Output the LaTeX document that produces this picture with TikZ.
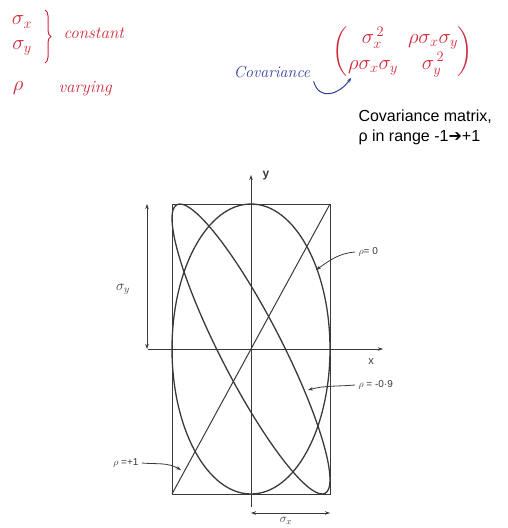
\documentclass[tikz,border=0pt]{standalone}
\usepackage{amsmath}
\usepackage{fontspec}
\setsansfont{Liberation Sans}
\newfontfamily\arrowfont{DejaVu Sans}
\usetikzlibrary{arrows.meta,positioning,decorations.pathreplacing}
\definecolor{penred}{HTML}{D0283A}
\definecolor{penblue}{HTML}{2F3F9A}
\definecolor{plotgray}{HTML}{3A3A3A}

\begin{document}
\begin{tikzpicture}[x=1pt, y=1pt,
    hand/.style={text=penred, font=\itshape\fontsize{17}{19}\selectfont},
    bighand/.style={text=penred, font=\fontsize{22}{24}\selectfont},
    curve/.style={draw=plotgray, line width=1.3pt},
    thinline/.style={draw=plotgray, line width=0.8pt},
    lbl/.style={text=plotgray, font=\sffamily\fontsize{10}{12}\selectfont},
    tip/.style={-{Stealth[length=5pt,width=3.5pt]}},
    dim/.style={thinline, {Stealth[length=5pt,width=3.5pt]}-{Stealth[length=5pt,width=3.5pt]}}]
  \useasboundingbox (0,0) rectangle (507,528);

  % handwritten notes
  \node[bighand] (sx) at (22,506) {$\sigma_x$};
  \node[bighand] (sy) at (22,480) {$\sigma_y$};
  \draw[penred, line width=1pt, decorate, decoration={brace, amplitude=6pt}] (45,518) -- (45,465);
  \node[hand, anchor=west] (const) at (60,495) {constant};
  \node[bighand] (rho) at (18,440) {$\rho$};
  \node[hand, anchor=west] (vary) at (55,439) {varying};

  \node[text=penred, font=\fontsize{20}{22}\selectfont] (cov) at (403,476)
    {$\begin{pmatrix} \sigma_x^{\,2} & \rho\sigma_x\sigma_y \\[2pt] \rho\sigma_x\sigma_y & \sigma_y^{\,2} \end{pmatrix}$};
  \coordinate (covtip) at ([xshift=22pt,yshift=3pt]cov.south west);
  \node[text=penblue, font=\itshape\fontsize{16}{18}\selectfont] (covlab) at (272,456) {Covariance};
  \draw[penblue, line width=1pt, tip] (covlab.south east) to[out=-75, in=-125, looseness=1.4] (covtip);

  \node[font=\sffamily\fontsize{16}{18}\selectfont, anchor=west] (cm) at (355,411) {Covariance matrix,};
  \node[font=\sffamily\fontsize{16}{18}\selectfont, anchor=west] (range) at (355,391) {ρ in range -1{\arrowfont\bfseries ➔}+1};

  % plot
  \coordinate (C) at (251,179);
  \coordinate (bl) at (172,34);
  \coordinate (tr) at (330,324);
  \draw[thinline] (bl) rectangle (tr);
  \draw[thinline, tip] (251,21) -- (251,353);
  \draw[thinline, tip] (148,179) -- (383,179);
  \node[lbl, font=\sffamily\bfseries\fontsize{12}{14}\selectfont] (ylab) at (266,352) {y};
  \node[lbl, font=\sffamily\fontsize{11}{13}\selectfont] (xlab) at (371,166) {x};

  \draw[curve] (C) ellipse [x radius=79, y radius=145];
  \draw[curve] plot[smooth cycle, domain=0:355, samples=72] ({251+79*cos(\x)}, {179+145*cos(\x-154.16)});
  \draw[thinline, line width=1pt] (bl) -- (tr);

  % dimensions
  \draw[dim] (147,324) -- (147,179);
  \node[lbl, font=\fontsize{14}{16}\selectfont] (sylab) at (123,239) {$\sigma_y$};
  \draw[dim] (251,15) -- (330,15);
  \node[lbl, font=\fontsize{13}{15}\selectfont, inner sep=1pt] (sxlab) at (286,7) {$\sigma_x$};

  % curve labels
  \node[lbl, anchor=west] (r0) at (355,276) {$\rho$= 0};
  \coordinate (r0tip) at (316,258);
  \draw[plotgray, line width=0.8pt, tip] (r0.west) to[out=185, in=35] (r0tip);
  \node[lbl, anchor=west] (r9) at (355,143) {$\rho$ = -0·9};
  \coordinate (r9tip) at (308,138);
  \draw[plotgray, line width=0.8pt, tip] (r9.west) to[out=185, in=15] (r9tip);
  \node[lbl, anchor=east] (r1) at (142,65) {$\rho$ =+1};
  \coordinate (r1tip) at (181,58);
  \draw[plotgray, line width=0.8pt, tip] (r1.east) to[out=-5, in=150] (r1tip);
\end{tikzpicture}
\end{document}
